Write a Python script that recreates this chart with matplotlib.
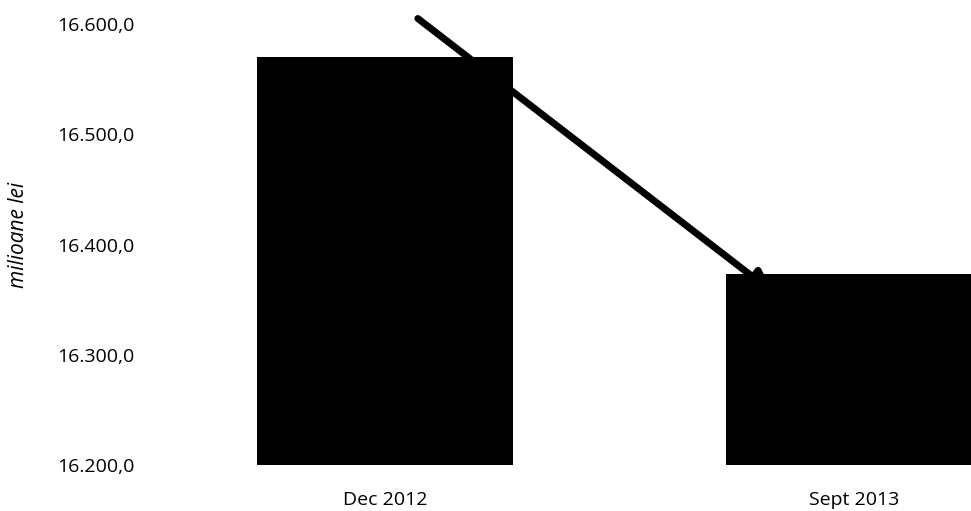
import matplotlib
matplotlib.use("Agg")
import matplotlib.pyplot as plt
from matplotlib.ticker import FuncFormatter

# Data
categories = ["Dec 2012", "Sept 2013"]
values = [16570.0, 16373.0]
y_ticks = [16200, 16300, 16400, 16500, 16600]

# Trend arrow (data coordinates: category index, value)
arrow_start = (0.07, 16605.0)
arrow_end = (0.826, 16357.0)

plt.rcParams["font.family"] = ["Open Sans", "DejaVu Sans"]

W, H = 971, 511
fig = plt.figure(figsize=(W / 100, H / 100), dpi=100)
left_px, right_px = 150, 971
top_px, bottom_px = 24, 465
ax = fig.add_axes([left_px / W, 1 - bottom_px / H,
                   (right_px - left_px) / W, (bottom_px - top_px) / H])

x = list(range(len(categories)))
ax.bar(x, values, width=0.544, color="black", zorder=2)

# arrow sits behind the bars so only a sliver of its head shows
ax.annotate("", xy=arrow_end, xytext=arrow_start,
            arrowprops=dict(arrowstyle="-|>", color="black", lw=5,
                            mutation_scale=30, shrinkA=0, shrinkB=0),
            annotation_clip=False, zorder=1)

ax.set_xlim(-0.501, 1.2495)
ax.set_ylim(16200, 16600)
ax.set_yticks(y_ticks)
ax.yaxis.set_major_formatter(FuncFormatter(
    lambda v, p: f"{v:,.1f}".replace(",", "X").replace(".", ",").replace("X", ".")))
ax.set_xticks(x)
ax.set_xticklabels(categories)

for s in ax.spines.values():
    s.set_visible(False)
ax.tick_params(axis="y", length=0, pad=11, labelsize=14)
ax.tick_params(axis="x", length=0, pad=19, labelsize=14)
for lbl in ax.get_yticklabels():
    lbl.set_clip_on(False)

fig.text(19 / W, 1 - 235 / H, "milioane lei", rotation=90, style="italic",
         fontsize=15, ha="center", va="center")

fig.savefig("out.png", dpi=100)
